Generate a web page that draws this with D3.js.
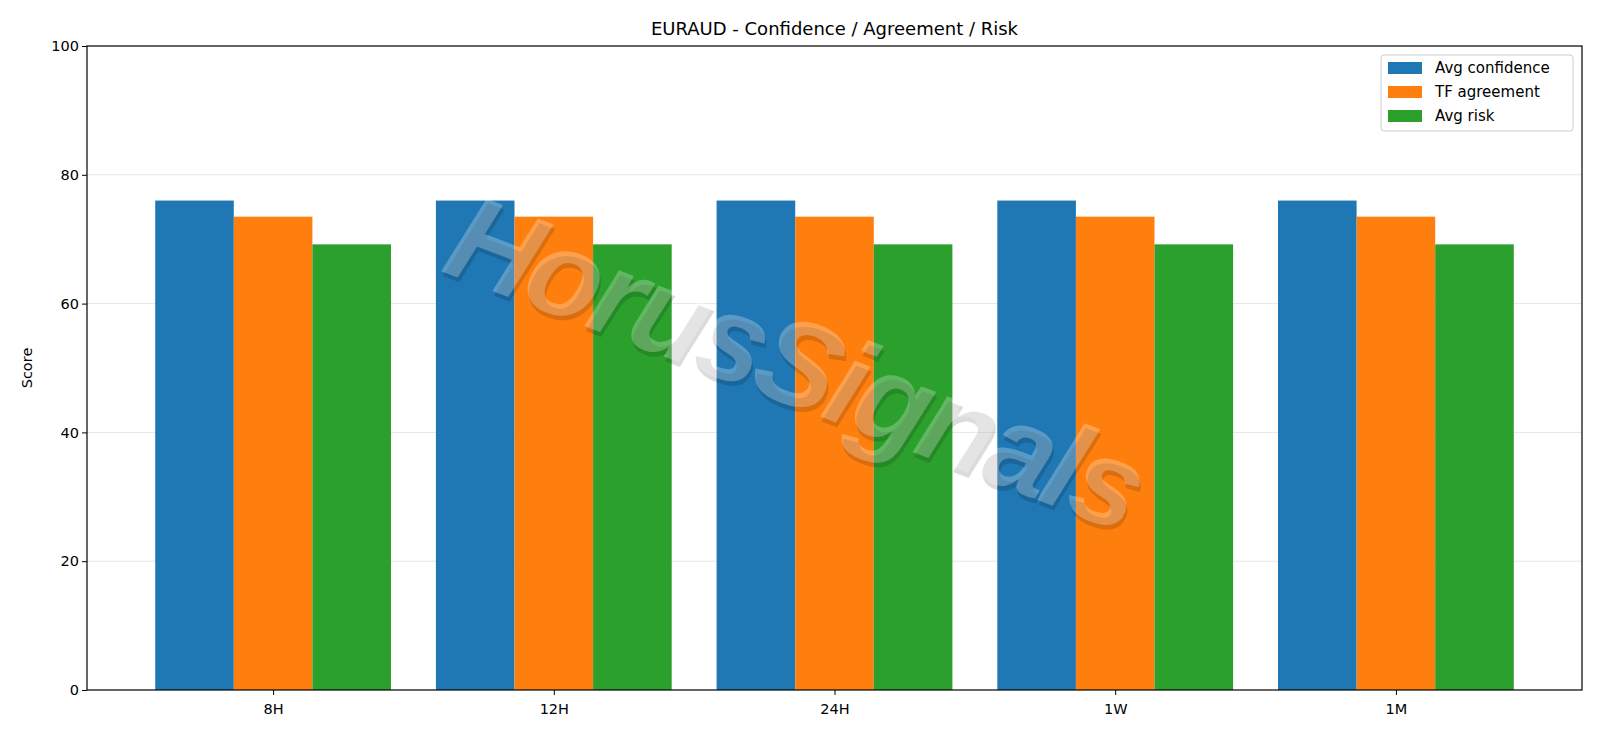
<!DOCTYPE html>
<html><head><meta charset="utf-8">
<script src="https://cdn.jsdelivr.net/npm/d3@7"></script>
<style>body{margin:0;background:#fff}svg{display:block;font-family:"DejaVu Sans",sans-serif}</style>
</head><body><svg id="c" width="1600" height="738"></svg>
<script>
const categories = ["8H","12H","24H","1W","1M"];
const seriesNames = ["Avg confidence","TF agreement","Avg risk"];
const avgConfidence = [76,76,76,76,76];
const tfAgreement = [73.5,73.5,73.5,73.5,73.5];
const avgRisk = [69.2,69.2,69.2,69.2,69.2];
const yTicks = [0,20,40,60,80,100];
const colors = ["#1f77b4","#ff7f0e","#2ca02c"];
const series = [avgConfidence, tfAgreement, avgRisk];

const svg = d3.select("#c");
const L=87,R=1582,T=46,B=690;
const x = d3.scaleLinear().domain([-0.663,4.663]).range([L,R]);
const y = d3.scaleLinear().domain([0,100]).range([B,T]);
const bw = 0.28;

svg.append("g").selectAll("line").data(yTicks.slice(1,-1)).join("line")
 .attr("x1",L).attr("x2",R).attr("y1",d=>y(d)).attr("y2",d=>y(d))
 .attr("stroke","#e6e6e6").attr("stroke-width",1);

series.forEach((s,si)=>{
  svg.append("g").selectAll("rect").data(s).join("rect")
   .attr("x",(d,i)=>x(i+(si-1)*bw-bw/2)).attr("width",x(bw)-x(0))
   .attr("y",d=>y(d)).attr("height",d=>B-y(d)).attr("fill",colors[si]);
});

const xa = svg.append("g").attr("transform",`translate(0,${B})`)
 .call(d3.axisBottom(x).tickValues(d3.range(categories.length)).tickFormat(i=>categories[i]).tickSize(5).tickSizeOuter(0));
const ya = svg.append("g").attr("transform",`translate(${L},0)`)
 .call(d3.axisLeft(y).tickValues(yTicks).tickSize(5).tickSizeOuter(0));
[xa,ya].forEach(a=>{a.select(".domain").remove();a.selectAll("text").attr("font-size",14.5).attr("fill","#000").attr("font-family","DejaVu Sans");a.selectAll("line").attr("stroke","#000");});
xa.selectAll("text").attr("dy","1.1em");
svg.append("rect").attr("x",L).attr("y",T).attr("width",R-L).attr("height",B-T).attr("fill","none").attr("stroke","#000").attr("stroke-width",1.2);

svg.append("text").attr("x",(L+R)/2).attr("y",35).attr("text-anchor","middle").attr("font-size",18).text("EURAUD - Confidence / Agreement / Risk");
svg.append("text").attr("transform",`translate(32,${(T+B)/2}) rotate(-90)`).attr("text-anchor","middle").attr("font-size",14.5).text("Score");

// watermark
const wm = svg.append("g").attr("transform","translate(794,372) rotate(21)");
const wmAttrs = s => s.attr("text-anchor","middle").attr("dominant-baseline","middle")
 .attr("font-family","Liberation Sans").attr("font-weight","bold").attr("font-style","italic").attr("font-size",122)
 .attr("textLength",735).text("HorusSignals");
wm.append("text").attr("x",3).attr("y",4).attr("fill","#000").attr("fill-opacity",0.14).call(wmAttrs);
wm.append("text").attr("x",0).attr("y",0).attr("fill","#fff").attr("fill-opacity",0.26).call(wmAttrs);

// legend
const lg = svg.append("g").attr("transform","translate(1381,55)");
lg.append("rect").attr("width",192).attr("height",76).attr("rx",3).attr("fill","#fff").attr("fill-opacity",0.8).attr("stroke","#ccc");
seriesNames.forEach((n,i)=>{
  lg.append("rect").attr("x",7).attr("y",7+i*24).attr("width",34).attr("height",12).attr("fill",colors[i]);
  lg.append("text").attr("x",54).attr("y",18+i*24).attr("font-size",15).text(n);
});
</script></body></html>
